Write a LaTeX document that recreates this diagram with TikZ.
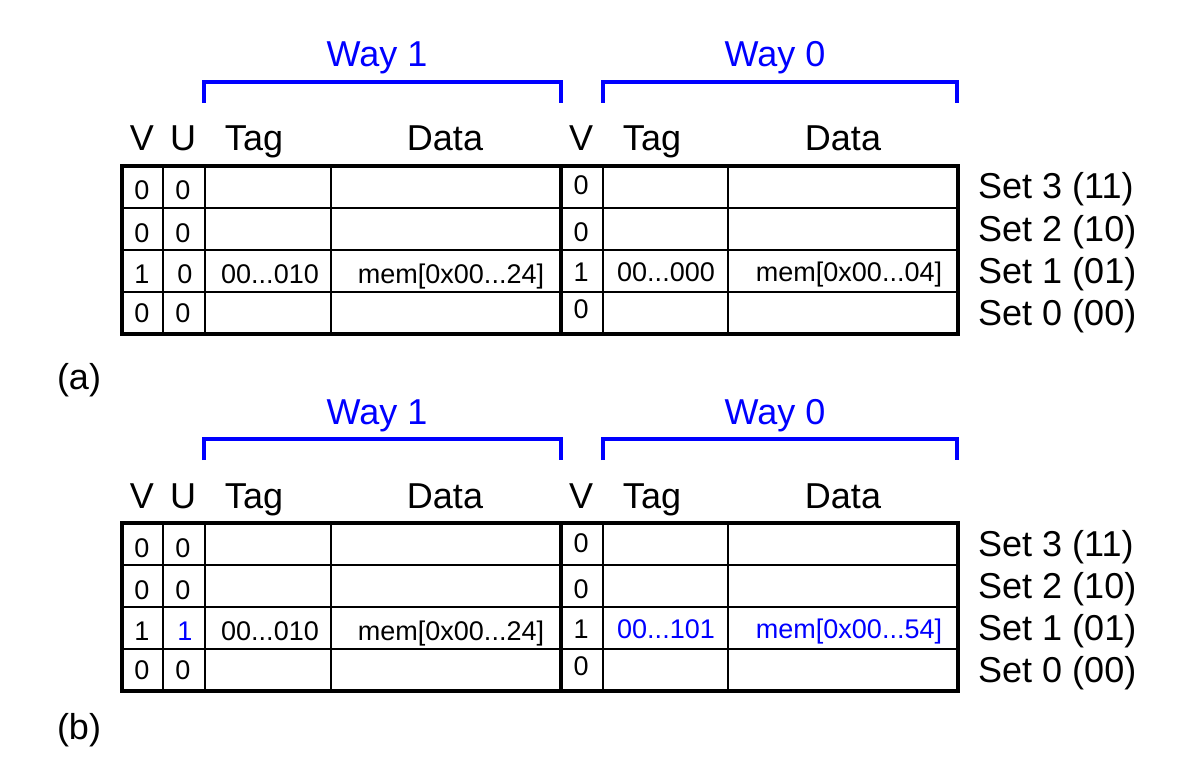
\documentclass[tikz,border=0pt]{standalone}
\usepackage{fontspec}
\setmainfont{Liberation Sans}
\usetikzlibrary{positioning}

\tikzset{
    grid line/.style={line width=1.3pt},
    frame line/.style={line width=3.3pt},
    way brace/.style={blue, line width=3.2pt},
    head/.style={font=\fontsize{36}{40}\selectfont, anchor=base, inner sep=0pt},
    cell/.style={font=\fontsize{27}{30}\selectfont, anchor=base, inner sep=0pt},
}

\begin{document}
\begin{tikzpicture}[x=1pt, y=-1pt]
    \useasboundingbox (0,0) rectangle (1185,770);

    % both panels share the same table
    \foreach \p/\dy/\lb in {a/0/389, b/357/382} {
        \begin{scope}[yshift=-\dy pt]
            \foreach \r in {208,250,292}
                \draw [grid line] (122,\r) -- (958,\r);
            \foreach \c in {163,205,331,603,728}
                \draw [grid line] (\c,166) -- (\c,334);
            \draw [frame line] (561,166) -- (561,334);
            \draw [frame line] (122,166) rectangle (958,334);

            % way brackets
            \draw [way brace] (204,103) |- (561,82) -- (561,103);
            \draw [way brace] (603,103) |- (957,82) -- (957,103);
            \node [head, text=blue] (\p-way1) at (377,67) {Way 1};
            \node [head, text=blue] (\p-way0) at (775,67) {Way 0};

            % column heads
            \node [head] (\p-hv1) at (142,151) {V};
            \node [head] (\p-hu1) at (183,151) {U};
            \node [head] (\p-htag1) at (254,151) {Tag};
            \node [head] (\p-hdata1) at (445,151) {Data};
            \node [head] (\p-hv0) at (581,151) {V};
            \node [head] (\p-htag0) at (652,151) {Tag};
            \node [head] (\p-hdata0) at (843,151) {Data};

            % set names
            \foreach \s/\bits/\yb in {3/11/199, 2/10/241, 1/01/283, 0/00/325}
                \node [head, anchor=base west] (\p-set\s) at (978,\yb) {Set \s\ (\bits)};

            % empty lines
            \foreach \s/\yb/\yc in {3/200/195, 2/242/241, 0/322/318} {
                \node [cell] (\p-v1-\s) at (142,\yb) {0};
                \node [cell] (\p-u1-\s) at (183,\yb) {0};
                \node [cell] (\p-v0-\s) at (581,\yc) {0};
            }

            \node [head] (\p-label) at (79,\lb) {(\p)};
        \end{scope}
    }

    % set 1 before the access
    \node [cell] (a-v1-1) at (142,283) {1};
    \node [cell] (a-u1-1) at (185,283) {0};
    \node [cell] (a-tag1-1) at (270,283) {00...010};
    \node [cell] (a-data1-1) at (451,283) {mem[0x00...24]};
    \node [cell] (a-v0-1) at (581,281) {1};
    \node [cell] (a-tag0-1) at (666,281) {00...000};
    \node [cell] (a-data0-1) at (849,281) {mem[0x00...04]};

    % set 1 after the access
    \node [cell] (b-v1-1) at (142,640) {1};
    \node [cell, text=blue] (b-u1-1) at (185,640) {1};
    \node [cell] (b-tag1-1) at (270,640) {00...010};
    \node [cell] (b-data1-1) at (451,640) {mem[0x00...24]};
    \node [cell] (b-v0-1) at (581,638) {1};
    \node [cell, text=blue] (b-tag0-1) at (666,638) {00...101};
    \node [cell, text=blue] (b-data0-1) at (849,638) {mem[0x00...54]};
\end{tikzpicture}
\end{document}
